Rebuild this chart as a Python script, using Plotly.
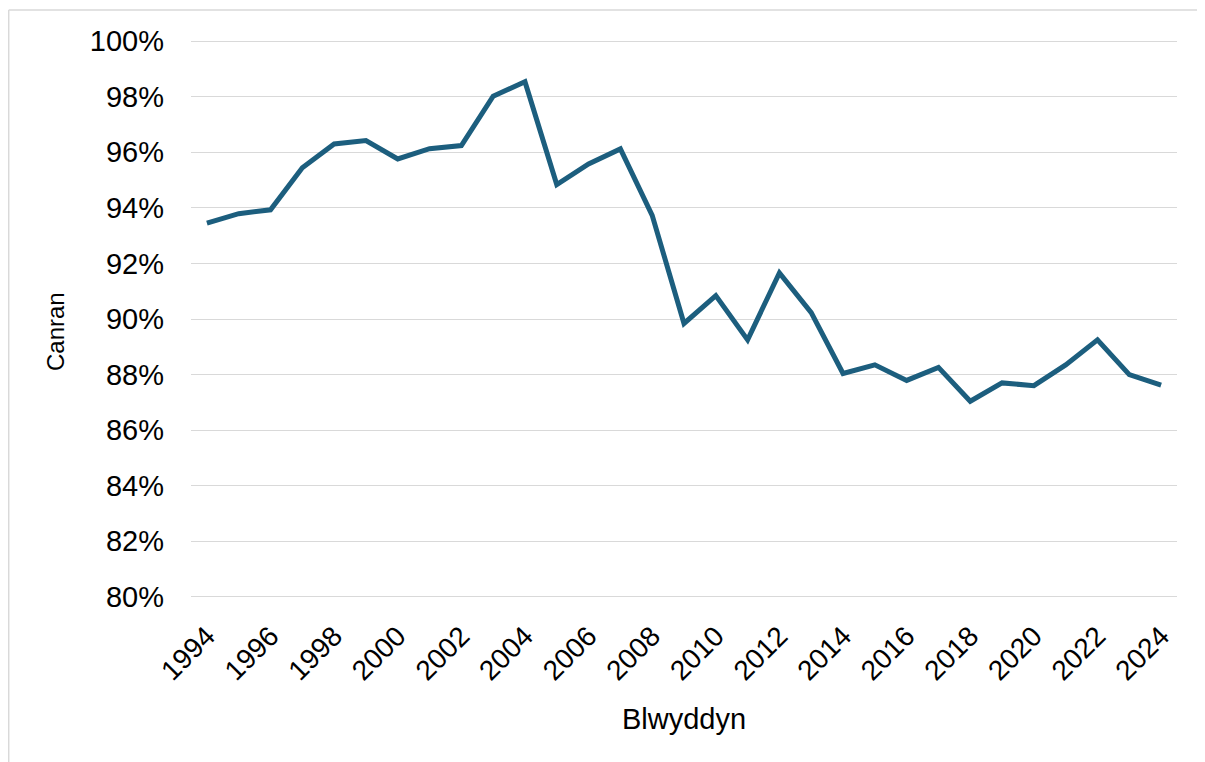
import plotly.graph_objects as go

years = list(range(1994, 2025))
percent = [93.45, 93.79, 93.93, 95.44, 96.30, 96.42, 95.76, 96.13, 96.24, 98.02,
           98.54, 94.84, 95.58, 96.12, 93.73, 89.84, 90.84, 89.25, 91.66, 90.23,
           88.04, 88.35, 87.79, 88.26, 87.04, 87.70, 87.60, 88.35, 89.25, 88.00,
           87.62]
x_ticks = list(range(1994, 2025, 2))
y_ticks = list(range(80, 101, 2))
y_labels = [f"{v}%" for v in y_ticks]
x_title = "Blwyddyn"
y_title = "Canran"

# page body has an 8px margin; compensate so the chart lands where the reference has it
OFF = 8
W, H = 1205 - OFF, 762 - OFF
L, R, T, B = 191 - OFF, 28, 40 - OFF, 164
pw, ph = W - L - R, H - T - B

def px(x):
    return (x - OFF - L) / pw

def py(y):
    return (H - B - (y - OFF)) / ph

fig = go.Figure()
fig.add_trace(go.Scatter(
    x=years, y=percent, mode="lines",
    line=dict(color="#1C5E7E", width=5),
    hoverinfo="x+y", showlegend=False,
))

font_family = "Liberation Sans, Arial, sans-serif"

fig.update_layout(
    width=W, height=H,
    margin=dict(l=L, r=R, t=T, b=B),
    paper_bgcolor="white", plot_bgcolor="white",
    font=dict(family=font_family, color="#000000"),
    xaxis=dict(
        range=[1993.5, 2024.5], tickmode="array", tickvals=x_ticks,
        ticktext=[str(v) for v in x_ticks], tickangle=-45,
        tickfont=dict(size=28, color="#000000"),
        showgrid=False, zeroline=False, showline=False, ticks="",
        ticklabelstandoff=15,
    ),
    yaxis=dict(
        range=[79.96, 100.04], tickmode="array", tickvals=y_ticks, ticktext=y_labels,
        tickfont=dict(size=29, color="#000000"),
        showgrid=True, gridcolor="#D9D9D9", gridwidth=1.3,
        zeroline=False, showline=False, ticks="",
        ticklabelstandoff=26,
    ),
    annotations=[
        dict(text=x_title, xref="paper", yref="paper", x=px(684), y=py(719),
             xanchor="center", yanchor="middle", showarrow=False,
             font=dict(size=29, color="#000000")),
        dict(text=y_title, xref="paper", yref="paper", x=px(55), y=py(332),
             xanchor="center", yanchor="middle", showarrow=False, textangle=-90,
             font=dict(size=24, color="#000000")),
    ],
    shapes=[
        dict(type="line", xref="paper", yref="paper", x0=px(8.7), x1=px(1215),
             y0=py(10), y1=py(10), line=dict(color="#D9D9D9", width=1.5)),
        dict(type="line", xref="paper", yref="paper", x0=px(8.7), x1=px(8.7),
             y0=py(10), y1=py(775), line=dict(color="#D9D9D9", width=1.5)),
    ],
)

fig.write_html("out.html")
